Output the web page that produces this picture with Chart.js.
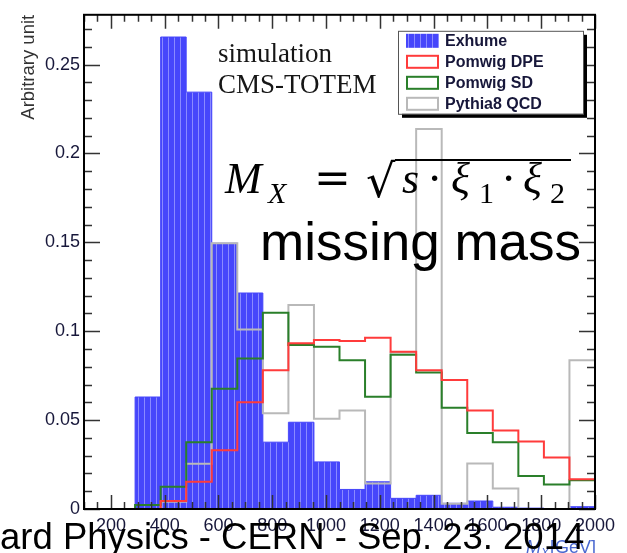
<!DOCTYPE html>
<html>
<head>
<meta charset="utf-8">
<script src="https://cdn.jsdelivr.net/npm/chart.js@4.4.0/dist/chart.umd.min.js"></script>
<style>
html, body { margin: 0; padding: 0; background: #fff; }
#wrap { position: relative; width: 627px; height: 553px; overflow: hidden; }
</style>
</head>
<body>
<div id="wrap"><canvas id="mx_chart" width="627" height="553"></canvas></div>
<script>
// BIN EDGES (GeV) - 20 bins between 100 and 2000
const binEdges = [100, 195, 290, 385, 480, 575, 670, 765, 860, 955, 1050,
                  1145, 1240, 1335, 1430, 1525, 1620, 1715, 1810, 1905, 2000];

// SERIES (one value per bin)
const exhume    = [0, 0, 0.063, 0.2655, 0.2345, 0.1495, 0.1215, 0.0376, 0.0488, 0.0265,
                   0.011, 0.0153, 0.006, 0.0077, 0.0032, 0.0045, 0.001, 0.0005, 0, 0.0013];
const pomwigDPE = [0, 0, 0, 0.0045, 0.0153, 0.033, 0.060, 0.0781, 0.0932, 0.0951,
                   0.0945, 0.0964, 0.0884, 0.0781, 0.0725, 0.0554, 0.0442, 0.038, 0.0289, 0.0168];
const pomwigSD  = [0, 0, 0.0022, 0.0125, 0.0376, 0.0677, 0.0846, 0.1104, 0.0923, 0.0912,
                   0.0837, 0.0632, 0.0867, 0.0768, 0.0569, 0.0427, 0.0375, 0.0185, 0.0138, 0.0162];
const pythia8   = [0, 0, 0, 0.0041, 0.0255, 0.1495, 0.101, 0.0539, 0.1147, 0.0507,
                   0.0554, 0.0144, 0.088, 0.2138, 0.003, 0.0256, 0.0116, 0, 0, 0.0837];

const seriesNames = ['Exhume', 'Pomwig DPE', 'Pomwig SD', 'Pythia8 QCD'];

// TICKS
const xTickValues = [200, 400, 600, 800, 1000, 1200, 1400, 1600, 1800, 2000];
const yTickValues = [0, 0.05, 0.1, 0.15, 0.2, 0.25];

const BLUE = '#4646fb';
const RED = '#ff3b3b';
const GREEN = '#2a7f2a';
const GREY = '#b9b9b9';
const LABEL = '#17173a';

Chart.defaults.font.family = '"Liberation Sans", Arial, sans-serif';

function histPoints(values){
	let pts = values.map((v, i) => ({ x: binEdges[i], y: v }));
	pts.push({ x: binEdges[binEdges.length - 1], y: values[values.length - 1] });
	return pts;
}

// vertical hatch like the ROOT fill style
function stripePattern(){
	const c = document.createElement('canvas');
	c.width = 6; c.height = 4;
	const g = c.getContext('2d');
	g.fillStyle = BLUE; g.fillRect(0, 0, 6, 4);
	g.fillStyle = '#8a8aff'; g.fillRect(0, 0, 1, 4);
	return g.createPattern(c, 'repeat');
}
const blueFill = stripePattern();

// frame, inner ticks, legend and the annotations
const rootStyle = {
	id: 'rootStyle',
	afterDatasetsDraw(chart){
		const ctx = chart.ctx, a = chart.chartArea;
		const xs = chart.scales.x, ys = chart.scales.y;
		ctx.save();
		ctx.strokeStyle = '#333';
		ctx.lineWidth = 1.5;
		ctx.beginPath();
		for (let v = xs.min; v <= xs.max + 0.1; v += 50) {
			const px = Math.round(xs.getPixelForValue(v)) + 0.5;
			const len = (v % 200 === 0) ? 14 : 7;
			ctx.moveTo(px, a.bottom); ctx.lineTo(px, a.bottom - len);
			ctx.moveTo(px, a.top); ctx.lineTo(px, a.top + len);
		}
		for (let k = 0; k <= 27; k++) {
			const py = Math.round(ys.getPixelForValue(k / 100)) + 0.5;
			const len = (k % 5 === 0) ? 16 : 8;
			ctx.moveTo(a.left, py); ctx.lineTo(a.left + len, py);
			ctx.moveTo(a.right, py); ctx.lineTo(a.right - len, py);
		}
		ctx.stroke();
		ctx.strokeStyle = '#000';
		ctx.lineWidth = 2;
		ctx.strokeRect(a.left, a.top, a.right - a.left, a.bottom - a.top);
		ctx.restore();
	},
	afterDraw(chart){
		const ctx = chart.ctx, a = chart.chartArea;
		ctx.save();

		// LEGEND
		const lx = a.right - 197, ly = a.top + 16, lw = 185, lh = 83;
		ctx.fillStyle = '#000';
		ctx.fillRect(lx + 4, ly + 4, lw, lh);
		ctx.fillStyle = '#fff';
		ctx.fillRect(lx, ly, lw, lh);
		ctx.strokeStyle = '#555';
		ctx.lineWidth = 1;
		ctx.strokeRect(lx + 0.5, ly + 0.5, lw, lh);
		chart.data.datasets.forEach((ds, i) => {
			const cy = ly + 10 + i * 21;
			if (i === 0) {
				ctx.fillStyle = blueFill;
				ctx.fillRect(lx + 8, cy - 7, 33, 14);
			} else {
				ctx.strokeStyle = ds.borderColor;
				ctx.lineWidth = 2;
				ctx.strokeRect(lx + 9, cy - 6, 31, 12);
			}
			ctx.fillStyle = LABEL;
			ctx.font = 'bold 16px "Liberation Sans"';
			ctx.textBaseline = 'middle';
			ctx.fillText(ds.label, lx + 47, cy + 1);
		});

		// SIMULATION LABEL
		ctx.textBaseline = 'alphabetic';
		ctx.fillStyle = '#161616';
		ctx.font = '27px "Liberation Serif"';
		ctx.fillText('simulation', 218, 62);
		ctx.fillText('CMS-TOTEM', 218, 93);

		// FORMULA  M_X = sqrt(s . xi1 . xi2)
		ctx.fillStyle = '#000';
		ctx.font = 'italic 44px "Liberation Serif"';
		ctx.fillText('M', 225, 193);
		ctx.font = 'italic 30px "Liberation Serif"';
		ctx.fillText('X', 268, 203);
		ctx.font = '44px "DejaVu Serif"';
		ctx.fillText('=', 314, 193);
		ctx.font = '46px "DejaVu Serif"';
		const rm = ctx.measureText('\u221A');
		const rBase = 159 + rm.actualBoundingBoxAscent;
		ctx.fillText('\u221A', 366, rBase);
		ctx.strokeStyle = '#000';
		ctx.lineWidth = 2;
		ctx.beginPath();
		ctx.moveTo(366 + rm.actualBoundingBoxRight - 1, 160);
		ctx.lineTo(571, 160);
		ctx.stroke();
		ctx.font = 'italic 44px "Liberation Serif"';
		ctx.fillText('s', 402, 193);
		ctx.fillText('\u03BE', 451, 193);
		ctx.fillText('\u03BE', 523, 193);
		ctx.font = '42px "DejaVu Serif"';
		ctx.fillText('\u00B7', 428, 193);
		ctx.fillText('\u00B7', 502, 193);
		ctx.font = '30px "Liberation Serif"';
		ctx.fillText('1', 479, 203);
		ctx.fillText('2', 550, 203);

		ctx.font = '53px "Liberation Sans"';
		ctx.fillText('missing mass', 260, 260);

		// AXIS TITLE (mostly under the footer)
		ctx.fillStyle = '#4a68d0';
		ctx.font = 'italic 18px "Liberation Sans"';
		ctx.fillText('M', 526, 553);
		ctx.font = 'italic 12px "Liberation Sans"';
		ctx.fillText('X', 541, 557);
		ctx.font = '18px "Liberation Sans"';
		ctx.fillText('[GeV]', 550, 553);

		// SLIDE FOOTER
		ctx.fillStyle = '#000';
		ctx.font = '36.5px "Liberation Sans"';
		ctx.fillText('ard Physics - CERN - Sep. 23. 2014', 0, 549);
		ctx.restore();
	}
};

const ctx = document.getElementById('mx_chart').getContext('2d');

const my_chart = new Chart(ctx, {
	type: 'line',
	data: {
		datasets: [{
			label: seriesNames[0],
			data: histPoints(exhume),
			stepped: true,
			fill: 'origin',
			backgroundColor: blueFill,
			borderColor: BLUE,
			borderWidth: 1,
			pointRadius: 0,
			order: 10
		},{
			label: seriesNames[1],
			data: histPoints(pomwigDPE),
			stepped: true,
			fill: false,
			borderColor: RED,
			borderWidth: 2,
			pointRadius: 0,
			order: 1
		},{
			label: seriesNames[2],
			data: histPoints(pomwigSD),
			stepped: true,
			fill: false,
			borderColor: GREEN,
			borderWidth: 2,
			pointRadius: 0,
			order: 2
		},{
			label: seriesNames[3],
			data: histPoints(pythia8),
			stepped: true,
			fill: false,
			borderColor: GREY,
			borderWidth: 2,
			pointRadius: 0,
			order: 3
		}]
	},
	options: {
		responsive: false,
		animation: false,
		layout: { padding: { top: 12, right: 32, left: 0, bottom: 0 } },
		plugins: {
			legend: { display: false },
			tooltip: { enabled: false }
		},
		scales: {
			x: {
				type: 'linear',
				min: 100,
				max: 2000,
				afterBuildTicks: s => { s.ticks = xTickValues.map(v => ({ value: v })); },
				afterFit: s => { s.height = 44; },
				grid: { display: false, drawTicks: false },
				border: { display: false },
				ticks: {
					color: LABEL,
					font: { size: 18 },
					padding: 6,
					maxRotation: 0,
					autoSkip: false,
					callback: v => String(v)
				}
			},
			y: {
				min: 0,
				max: 0.278,
				afterBuildTicks: s => { s.ticks = yTickValues.map(v => ({ value: v })); },
				afterFit: s => { s.width = 84; },
				grid: { display: false, drawTicks: false },
				border: { display: false },
				ticks: {
					color: LABEL,
					font: { size: 18 },
					padding: 4,
					callback: v => String(v)
				},
				title: {
					display: true,
					text: 'Arbitrary unit',
					align: 'end',
					color: '#333',
					font: { size: 18.5 },
					padding: { top: 18, bottom: 0 }
				}
			}
		}
	},
	plugins: [rootStyle]
});
</script>
</body>
</html>
